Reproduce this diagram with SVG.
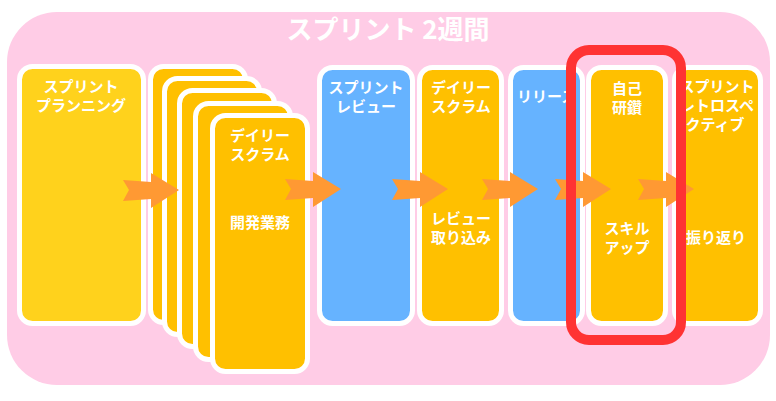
<svg xmlns="http://www.w3.org/2000/svg" width="776" height="401" viewBox="0 0 776 401">
<defs>
<style>
.node{stroke:#FFFFFF;stroke-width:5}
.yl{fill:#FFD21C}
.or{fill:#FFC000}
.bl{fill:#66B3FF}
.t{font-family:"Noto Sans CJK JP","Noto Sans",sans-serif;font-weight:bold;font-size:15px;fill:#FFFFFF;text-anchor:middle}
.ttl{font-family:"Noto Sans CJK JP","Noto Sans",sans-serif;font-weight:bold;font-size:26px;fill:#FFFFFF;text-anchor:middle}
.arr{fill:#FF9933}
</style>
<path id="arrow" d="M0,-10 L28,-8 L28,-17 L56,0 L28,18 L28,9 L0,11 L6,0 Z"/>
</defs>
<rect x="0" y="0" width="776" height="401" fill="#FFFFFF"/>
<g id="background">
<rect x="7" y="12" width="763" height="373" rx="50" fill="#FFCCE6"/>
<text class="ttl" x="388" y="39">スプリント 2週間</text>
</g>
<g id="planning">
<rect class="node yl" x="19.5" y="66.5" width="124" height="257" rx="13"/>
<text class="t" x="81" y="92">スプリント</text>
<text class="t" x="81" y="111">プランニング</text>
</g>
<g id="daily-scrum-dev">
<rect class="node or" x="150.5" y="66.5" width="95" height="256" rx="13"/>
<rect class="node or" x="164.5" y="78.5" width="95" height="256" rx="13"/>
<rect class="node or" x="179.5" y="90.5" width="95" height="256" rx="13"/>
<rect class="node or" x="195.5" y="103.5" width="95" height="256" rx="13"/>
<rect class="node or" x="212.5" y="115.5" width="95" height="256" rx="13"/>
<text class="t" x="260" y="141">デイリー</text>
<text class="t" x="260" y="160">スクラム</text>
<text class="t" x="260" y="228">開発業務</text>
</g>
<g id="sprint-review">
<rect class="node bl" x="319.5" y="67.5" width="93" height="256" rx="13"/>
<text class="t" x="366" y="93">スプリント</text>
<text class="t" x="366" y="112">レビュー</text>
</g>
<g id="daily-scrum-review">
<rect class="node or" x="419.5" y="67.5" width="82" height="256" rx="13"/>
<text class="t" x="461" y="93">デイリー</text>
<text class="t" x="461" y="112">スクラム</text>
<text class="t" x="461" y="224">レビュー</text>
<text class="t" x="461" y="243">取り込み</text>
</g>
<g id="release">
<rect class="node bl" x="510.5" y="67.5" width="72" height="256" rx="13"/>
<text class="t" x="517" y="102" style="text-anchor:start">リリース</text>
</g>
<g id="self-study">
<rect class="node or" x="588.5" y="67.5" width="77" height="256" rx="13"/>
<text class="t" x="627" y="94">自己</text>
<text class="t" x="627" y="113">研鑽</text>
<text class="t" x="627" y="234">スキル</text>
<text class="t" x="627" y="253">アップ</text>
</g>
<g id="retrospective">
<rect class="node or" x="674.5" y="67.5" width="86" height="256" rx="13"/>
<text class="t" x="717" y="92">スプリント</text>
<text class="t" x="717" y="111">レトロスペ</text>
<text class="t" x="715" y="130">クティブ</text>
<text class="t" x="716" y="243">振り返り</text>
</g>
<g id="connectors">
<use href="#arrow" class="arr" x="123" y="190"/>
<use href="#arrow" class="arr" x="285" y="189"/>
<use href="#arrow" class="arr" x="392" y="189"/>
<use href="#arrow" class="arr" x="482" y="189"/>
<use href="#arrow" class="arr" x="555" y="189"/>
<use href="#arrow" class="arr" x="638" y="189"/>
</g>
<g id="highlight">
<rect x="571" y="50" width="110" height="290" rx="18" fill="none" stroke="#FF3333" stroke-width="10"/>
</g>
</svg>
